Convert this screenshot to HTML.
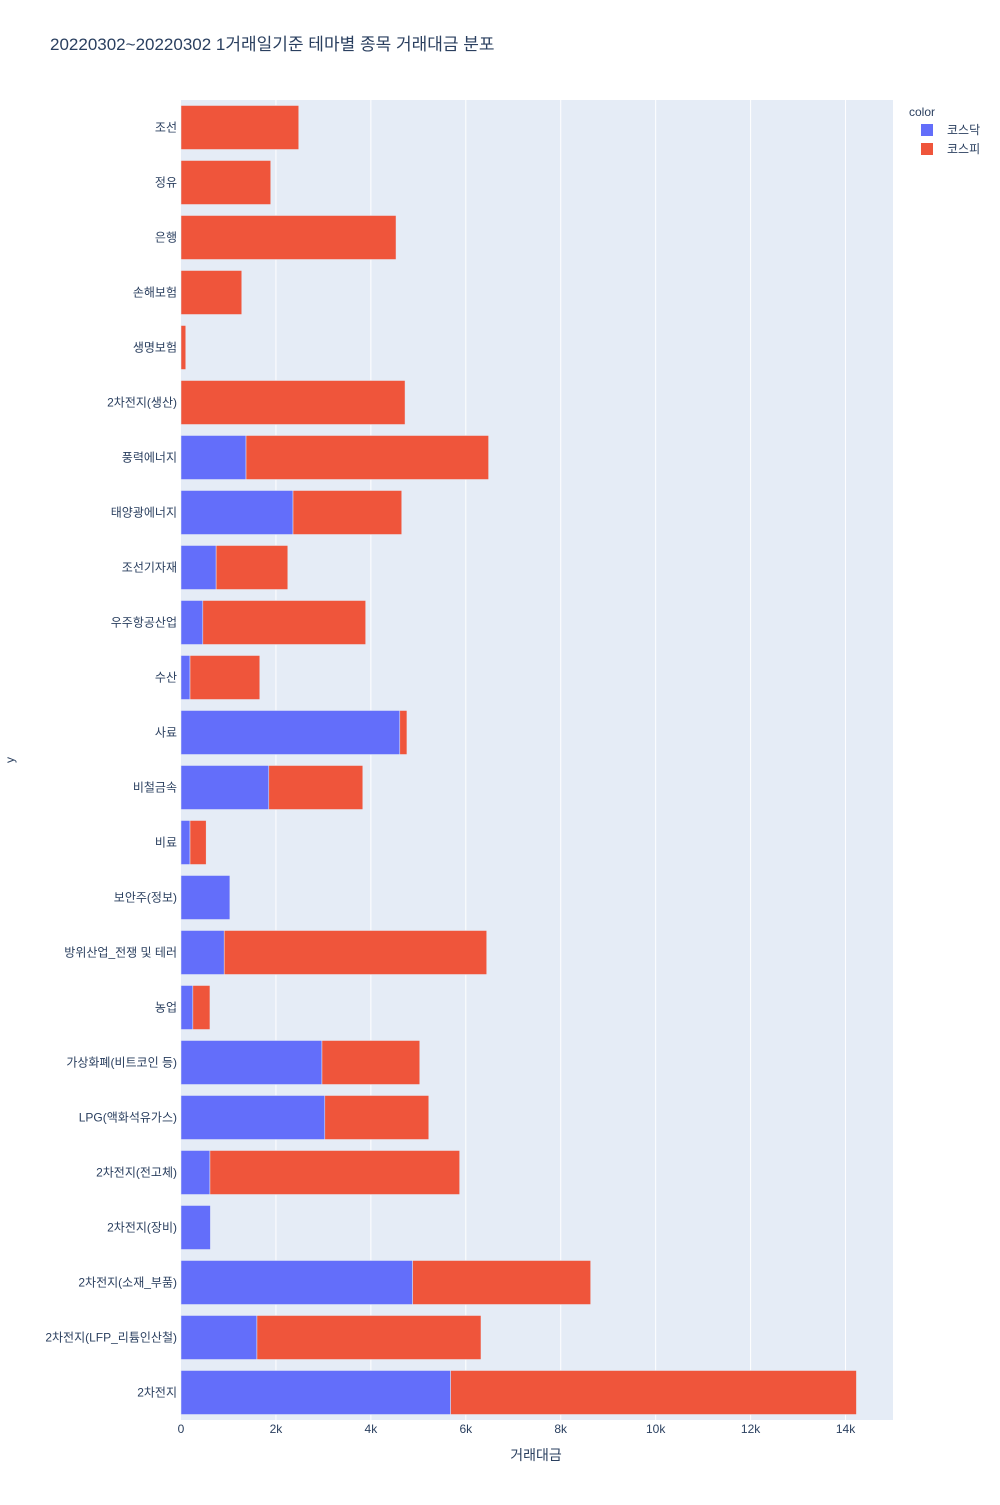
<!DOCTYPE html>
<html><head><meta charset="utf-8"><style>
body{margin:0;background:#fff;}
svg text{font-family:"Liberation Sans","Noto Sans CJK KR",sans-serif;fill:#2a3f5f;}
</style></head><body>
<svg id="chart" width="1000" height="1500" xmlns="http://www.w3.org/2000/svg">
<rect x="0" y="0" width="1000" height="1500" fill="#fff"/>
<text x="50" y="50" font-size="17">20220302~20220302 1거래일기준 테마별 종목 거래대금 분포</text>
<rect x="181" y="100" width="712" height="1320" fill="#e5ecf6"/>
<g id="grid"></g><g id="bars"></g><g id="yticks"></g><g id="xticks"></g>
<text x="536" y="1460" font-size="14" text-anchor="middle">거래대금</text>
<text x="14" y="760" font-size="12" text-anchor="middle" transform="rotate(-90 14 760)">y</text>
<text x="909" y="116" font-size="12">color</text>
<g><rect x="921" y="124" width="12" height="12" fill="#636efa"/><text x="947" y="134" font-size="12">코스닥</text></g>
<g><rect x="921" y="143" width="12" height="12" fill="#ef553b"/><text x="947" y="153" font-size="12">코스피</text></g>
</svg>
<script>
const categories=["조선","정유","은행","손해보험","생명보험","2차전지(생산)","풍력에너지","태양광에너지","조선기자재","우주항공산업","수산","사료","비철금속","비료","보안주(정보)","방위산업_전쟁 및 테러","농업","가상화폐(비트코인 등)","LPG(액화석유가스)","2차전지(전고체)","2차전지(장비)","2차전지(소재_부품)","2차전지(LFP_리튬인산철)","2차전지"];
const kosdaq=[0,0,0,0,0,0,1370,2360,740,460,190,4610,1850,190,1030,910,250,2970,3030,610,620,4880,1600,5680];
const kospi=[2480,1890,4530,1280,100,4720,5110,2290,1510,3430,1470,150,1980,340,0,5530,360,2060,2190,5260,0,3750,4720,8550];
const xTicks=[0,2000,4000,6000,8000,10000,12000,14000];
const xTickLabels=["0","2k","4k","6k","8k","10k","12k","14k"];
const NS="http://www.w3.org/2000/svg";
const X0=181,PX=712/15000,Y0=100,BAND=1320/categories.length;
const xs=v=>X0+v*PX;
const yc=i=>Y0+BAND*(i+0.5);
function mk(tag,attrs,parent){const e=document.createElementNS(NS,tag);for(const k in attrs)e.setAttribute(k,attrs[k]);document.getElementById(parent).appendChild(e);return e;}
xTicks.forEach((t,i)=>{
  if(t>0){const l=mk('line',{x1:xs(t),x2:xs(t),y1:100,y2:1420,stroke:'#fff','stroke-width':1},'grid');
  
  }
  const tx=mk('text',{x:xs(t),y:1433,'font-size':12,'text-anchor':'middle'},'xticks');tx.textContent=xTickLabels[i];
  
  
});
const bw=BAND*0.8;
categories.forEach((c,i)=>{
  const y=yc(i);
  const t=mk('text',{x:177,y:y+4,'font-size':12,'text-anchor':'end'},'yticks');t.textContent=c;
  
  
  if(kosdaq[i]>0){const b=mk('rect',{x:xs(0),y:y-bw/2,width:xs(kosdaq[i])-xs(0),height:bw,fill:'#636efa',stroke:'#e5ecf6','stroke-width':0.5},'bars');
  
  }
  if(kospi[i]>0){const b=mk('rect',{x:xs(kosdaq[i]),y:y-bw/2,width:xs(kosdaq[i]+kospi[i])-xs(kosdaq[i]),height:bw,fill:'#ef553b',stroke:'#e5ecf6','stroke-width':0.5},'bars');
  
  }
});
</script>
</body></html>
